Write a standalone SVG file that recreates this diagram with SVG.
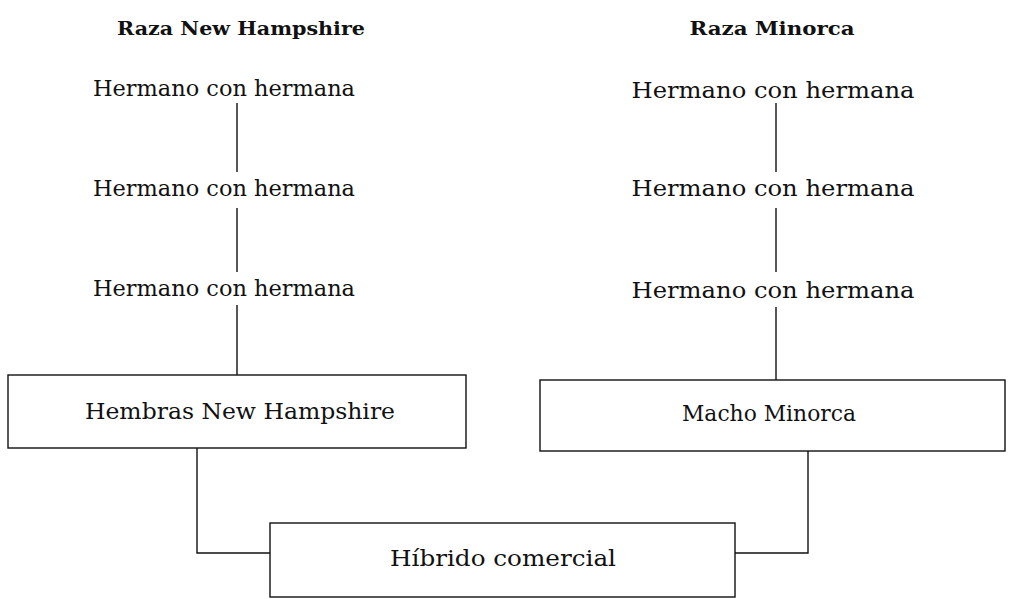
<svg xmlns="http://www.w3.org/2000/svg" width="1010" height="599" viewBox="0 0 1010 599">
<style>
.t{font-family:"DejaVu Serif","Liberation Serif",serif;font-size:22px;fill:#111;text-anchor:middle}
.h{font-family:"DejaVu Serif","Liberation Serif",serif;font-size:19px;font-weight:bold;fill:#111;text-anchor:middle}
.b{fill:none;stroke:#111;stroke-width:1.4}
.c{fill:none;stroke:#111;stroke-width:1.4}
</style>
<rect width="1010" height="599" fill="#fff"/>
<g id="title-nh"><text class="h" x="241" y="35" textLength="248" lengthAdjust="spacingAndGlyphs">Raza New Hampshire</text></g>
<g id="title-mi"><text class="h" x="772" y="35" textLength="165" lengthAdjust="spacingAndGlyphs">Raza Minorca</text></g>
<g id="nh1"><text class="t" x="224" y="96" textLength="262" lengthAdjust="spacingAndGlyphs">Hermano con hermana</text></g>
<g id="nh2"><text class="t" x="224" y="196" textLength="262" lengthAdjust="spacingAndGlyphs">Hermano con hermana</text></g>
<g id="nh3"><text class="t" x="224" y="296" textLength="262" lengthAdjust="spacingAndGlyphs">Hermano con hermana</text></g>
<g id="mi1"><text class="t" x="773" y="98" textLength="283" lengthAdjust="spacingAndGlyphs">Hermano con hermana</text></g>
<g id="mi2"><text class="t" x="773" y="196" textLength="283" lengthAdjust="spacingAndGlyphs">Hermano con hermana</text></g>
<g id="mi3"><text class="t" x="773" y="298" textLength="283" lengthAdjust="spacingAndGlyphs">Hermano con hermana</text></g>
<g id="box-nh"><rect class="b" x="8" y="375" width="458" height="73"/><text class="t" x="240" y="419" textLength="310" lengthAdjust="spacingAndGlyphs">Hembras New Hampshire</text></g>
<g id="box-mi"><rect class="b" x="540" y="380" width="465" height="71"/><text class="t" x="769" y="421" textLength="174" lengthAdjust="spacingAndGlyphs">Macho Minorca</text></g>
<g id="box-hy"><rect class="b" x="270" y="523" width="465" height="74"/><text class="t" x="503" y="566" textLength="226" lengthAdjust="spacingAndGlyphs">Híbrido comercial</text></g>
<g id="connectors">
<path class="c" d="M237 103V172M237 208V272M237 305V375"/>
<path class="c" d="M776 103V172M776 208V272M776 307V380"/>
<path class="c" d="M197 448V553H270"/>
<path class="c" d="M808 451V553H735"/>
</g>
</svg>
